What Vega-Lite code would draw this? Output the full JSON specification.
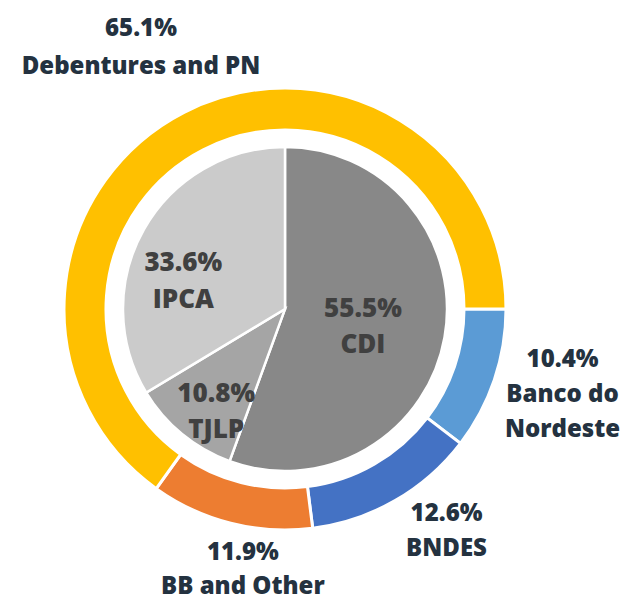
{
  "$schema": "https://vega.github.io/schema/vega-lite/v6.json",
  "width": 570,
  "height": 584,
  "autosize": {"type": "none"},
  "padding": {"left": 0, "top": 17, "right": 51, "bottom": 0},
  "background": "white",
  "config": {"text": {"font": "Open Sans", "fontWeight": 800, "align": "center", "baseline": "middle"}},
  "datasets": {
    "outer": [
      {"source": "Banco do Nordeste", "share": 10.4, "idx": 1, "label": ["10.4%", "Banco do", "Nordeste"]},
      {"source": "BNDES", "share": 12.6, "idx": 2, "label": ["12.6%", "BNDES"]},
      {"source": "BB and Other", "share": 11.9, "idx": 3, "label": ["11.9%", "BB and Other"]},
      {"source": "Debentures and PN", "share": 65.1, "idx": 4, "label": ["65.1%", "Debentures and PN"]}
    ],
    "inner": [
      {"index": "CDI", "share": 55.5, "idx": 1, "label": ["55.5%", "CDI"]},
      {"index": "TJLP", "share": 10.8, "idx": 2, "label": ["10.8%", "TJLP"]},
      {"index": "IPCA", "share": 33.6, "idx": 3, "label": ["33.6%", "IPCA"]}
    ]
  },
  "layer": [
    {
      "data": {"name": "outer"},
      "mark": {"type": "arc", "outerRadius": 221, "innerRadius": 179, "stroke": "white", "strokeWidth": 3},
      "encoding": {
        "theta": {"field": "share", "type": "quantitative", "stack": true, "scale": {"range": [1.5708, 7.854]}},
        "order": {"field": "idx", "type": "quantitative"},
        "color": {
          "field": "source", "type": "nominal", "legend": null,
          "scale": {
            "domain": ["Banco do Nordeste", "BNDES", "BB and Other", "Debentures and PN"],
            "range": ["#5B9BD5", "#4472C4", "#ED7D31", "#FFC000"]
          }
        }
      }
    },
    {
      "data": {"name": "inner"},
      "mark": {"type": "arc", "outerRadius": 162, "stroke": "white", "strokeWidth": 2.5},
      "encoding": {
        "theta": {"field": "share", "type": "quantitative", "stack": true},
        "order": {"field": "idx", "type": "quantitative"},
        "color": {
          "field": "index", "type": "nominal", "legend": null,
          "scale": {"domain": ["CDI", "TJLP", "IPCA"], "range": ["#888888", "#A5A5A5", "#CBCBCB"]}
        }
      }
    },
    {
      "data": {"name": "outer"},
      "mark": {"type": "text", "radius": 292, "dx": 1, "dy": -43, "fontSize": 24, "lineHeight": 35, "color": "#243240"},
      "encoding": {
        "theta": {"field": "share", "type": "quantitative", "stack": true, "scale": {"range": [1.5708, 7.854]}},
        "order": {"field": "idx", "type": "quantitative"},
        "text": {"condition": {"test": "datum.idx === 1", "field": "label"}, "value": ""}
      }
    },
    {
      "data": {"name": "outer"},
      "mark": {"type": "text", "radius": 272, "dx": 26, "dy": -31, "fontSize": 24, "lineHeight": 35, "color": "#243240"},
      "encoding": {
        "theta": {"field": "share", "type": "quantitative", "stack": true, "scale": {"range": [1.5708, 7.854]}},
        "order": {"field": "idx", "type": "quantitative"},
        "text": {"condition": {"test": "datum.idx === 2", "field": "label"}, "value": ""}
      }
    },
    {
      "data": {"name": "outer"},
      "mark": {"type": "text", "radius": 265, "dx": 23, "dy": -13, "fontSize": 24, "lineHeight": 34, "color": "#243240"},
      "encoding": {
        "theta": {"field": "share", "type": "quantitative", "stack": true, "scale": {"range": [1.5708, 7.854]}},
        "order": {"field": "idx", "type": "quantitative"},
        "text": {"condition": {"test": "datum.idx === 3", "field": "label"}, "value": ""}
      }
    },
    {
      "data": {"name": "outer"},
      "mark": {"type": "text", "radius": 300, "dx": -7, "dy": -13, "fontSize": 24, "lineHeight": 38, "color": "#243240"},
      "encoding": {
        "theta": {"field": "share", "type": "quantitative", "stack": true, "scale": {"range": [1.5708, 7.854]}},
        "order": {"field": "idx", "type": "quantitative"},
        "text": {"condition": {"test": "datum.idx === 4", "field": "label"}, "value": ""}
      }
    },
    {
      "data": {"name": "inner"},
      "mark": {"type": "text", "radius": 72, "dx": 7, "dy": -13, "fontSize": 26, "lineHeight": 36, "color": "#404040"},
      "encoding": {
        "theta": {"field": "share", "type": "quantitative", "stack": true},
        "order": {"field": "idx", "type": "quantitative"},
        "text": {"condition": {"test": "datum.idx === 1", "field": "label"}, "value": ""}
      }
    },
    {
      "data": {"name": "inner"},
      "mark": {"type": "text", "radius": 124, "dx": 10, "dy": -11, "fontSize": 26, "lineHeight": 36, "color": "#404040"},
      "encoding": {
        "theta": {"field": "share", "type": "quantitative", "stack": true},
        "order": {"field": "idx", "type": "quantitative"},
        "text": {"condition": {"test": "datum.idx === 2", "field": "label"}, "value": ""}
      }
    },
    {
      "data": {"name": "inner"},
      "mark": {"type": "text", "radius": 103, "dx": -12, "dy": 5, "fontSize": 26, "lineHeight": 37, "color": "#404040"},
      "encoding": {
        "theta": {"field": "share", "type": "quantitative", "stack": true},
        "order": {"field": "idx", "type": "quantitative"},
        "text": {"condition": {"test": "datum.idx === 3", "field": "label"}, "value": ""}
      }
    }
  ],
  "resolve": {"scale": {"theta": "independent", "color": "independent"}}
}
